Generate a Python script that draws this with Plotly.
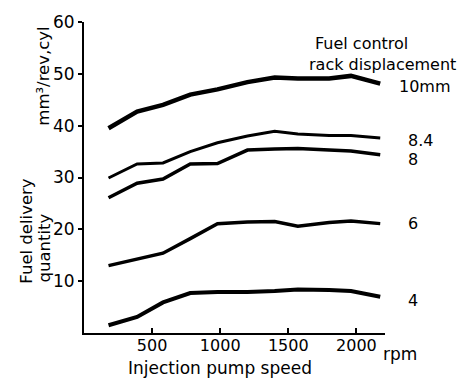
import plotly.graph_objects as go

rpm = [180, 390, 580, 780, 980, 1200, 1400, 1570, 1800, 1960, 2175]
q_10mm = [39.5, 42.7, 44.0, 46.0, 47.0, 48.4, 49.3, 49.1, 49.1, 49.6, 48.1]
q_8_4 = [29.9, 32.6, 32.8, 35.0, 36.7, 38.0, 38.9, 38.4, 38.1, 38.1, 37.6]
q_8 = [26.1, 28.9, 29.7, 32.6, 32.7, 35.3, 35.5, 35.6, 35.3, 35.1, 34.4]
q_6 = [13.0, 14.2, 15.4, 18.2, 21.1, 21.4, 21.5, 20.6, 21.3, 21.6, 21.1]
q_4 = [1.5, 3.1, 5.9, 7.7, 7.9, 7.9, 8.1, 8.4, 8.3, 8.1, 7.0]

series = [("10mm", q_10mm), ("8.4", q_8_4), ("8", q_8), ("6", q_6), ("4", q_4)]
widths = [4.5, 3, 3.5, 3.5, 4]

x_ticks = [500, 1000, 1500, 2000]
y_ticks = [10, 20, 30, 40, 50, 60]

FONT = "DejaVu Sans"
L, R, T, B = 84, 83, 20, 46
W, H = 468, 379
PW, PH = W - L - R, H - T - B

fig = go.Figure()
for (name, vals), w in zip(series, widths):
    fig.add_trace(go.Scatter(x=rpm, y=vals, mode="lines", name=name,
                             line=dict(color="black", width=w),
                             showlegend=False))


def px_ann(text, px, py, size=16, angle=0, xanchor="center"):
    fig.add_annotation(x=(px - L) / PW, y=(H - B - py) / PH, xref="paper", yref="paper",
                       text=text, showarrow=False, xanchor=xanchor, yanchor="middle",
                       textangle=angle, borderpad=0,
                       font=dict(size=size, color="black", family=FONT))


# curve labels at the right (label positions in pixels, text from series names)
label_pos = [(398, 84.5), (407, 139), (407, 158), (407, 223), (407, 300)]
for (name, _), (lx, ly) in zip(series, label_pos):
    px_ann(name, lx, ly, 16, 0, "left")

px_ann("Fuel control", 361, 42, 16)
px_ann("rack displacement", 382, 63, 16)
px_ann("rpm", 400, 354, 17)
px_ann("Injection pump speed", 220, 368, 17)
px_ann("mm³/rev,cyl", 44, 75, 16.5, -90)
px_ann("Fuel delivery", 27, 230, 16.5, -90)
px_ann("quantity", 45, 248, 16.5, -90)

fig.update_layout(
    width=W, height=H,
    margin=dict(l=L, r=R, t=T, b=B),
    paper_bgcolor="white", plot_bgcolor="white",
    font=dict(family=FONT, size=16, color="black"),
    xaxis=dict(range=[0, 2210], tickvals=x_ticks, ticktext=[str(v) for v in x_ticks],
               showline=True, linecolor="black", linewidth=2,
               ticks="inside", ticklen=5, tickwidth=1.5, tickcolor="black",
               showgrid=False, zeroline=False, ticklabelstandoff=-3,
               tickfont=dict(size=16, family=FONT)),
    yaxis=dict(range=[0, 60], tickvals=y_ticks, ticktext=[str(v) for v in y_ticks],
               showline=True, linecolor="black", linewidth=2,
               ticks="outside", ticklen=4, tickwidth=1.5, tickcolor="black",
               showgrid=False, zeroline=False,
               tickfont=dict(size=17, family=FONT)),
)

fig.write_html("out.html")
